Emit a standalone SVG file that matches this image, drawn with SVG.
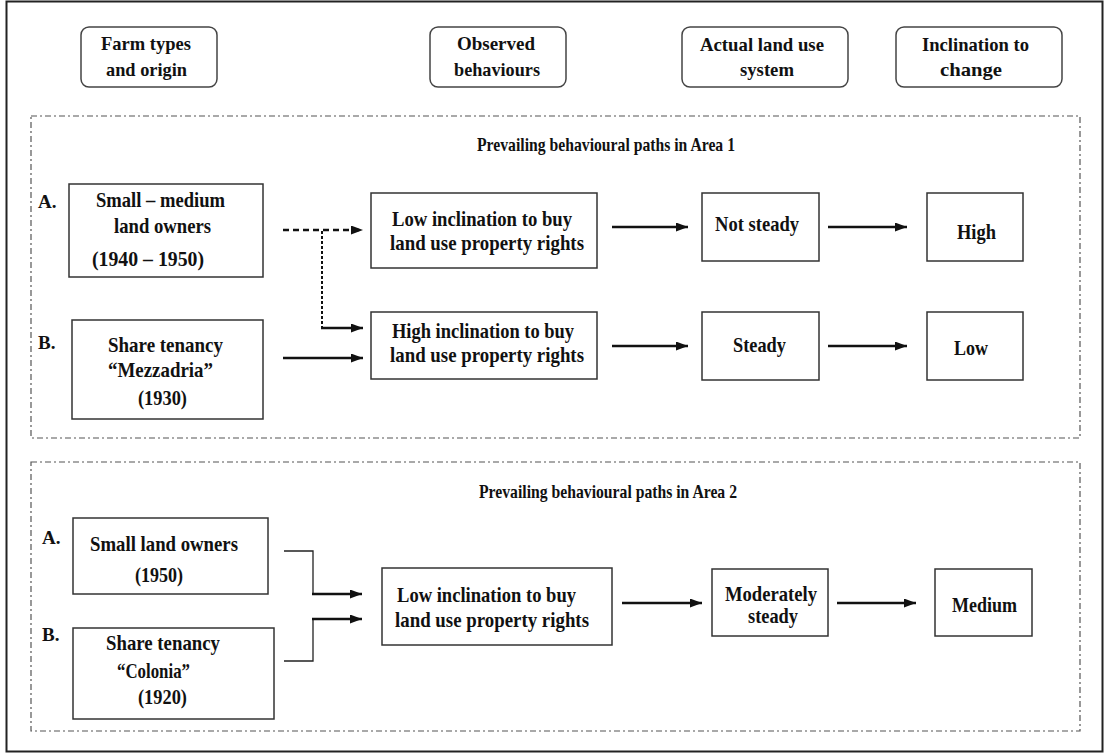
<svg xmlns="http://www.w3.org/2000/svg" width="1105" height="753" viewBox="0 0 1105 753">
<style>
  text { font-family: "Liberation Serif", "Times New Roman", serif; font-weight: bold; fill: #111; }
  .hd { font-size: 19px; }
  .tt { font-size: 19px; }
  .nd { font-size: 21px; }
  .lb { font-size: 19px; }
  .hbox { fill: #fff; stroke: #444; stroke-width: 1.5; }
  .box { fill: #fff; stroke: #333; stroke-width: 1.5; }
  .area { fill: none; stroke: #555; stroke-width: 1.2; stroke-dasharray: 6 3 2 3; }
  .arr { fill: none; stroke: #111; stroke-width: 2.5; marker-end: url(#ah); }
  .thin { fill: none; stroke: #222; stroke-width: 1.3; }
</style>
<defs>
  <marker id="ah" markerUnits="userSpaceOnUse" markerWidth="12" markerHeight="9" refX="12" refY="4.5" orient="auto">
    <path d="M0,0 L12,4.5 L0,9 z" fill="#111"/>
  </marker>
</defs>
<rect x="6.5" y="1.5" width="1096" height="750" fill="#fff" stroke="#222" stroke-width="2"/>

<g id="area1">
  <rect class="area" x="31" y="116" width="1049" height="322"/>
  <text class="tt" x="477" y="151" textLength="258" lengthAdjust="spacingAndGlyphs">Prevailing behavioural paths in Area 1</text>
</g>
<g id="area2">
  <rect class="area" x="31" y="462" width="1049" height="269"/>
  <text class="tt" x="479" y="498" textLength="258" lengthAdjust="spacingAndGlyphs">Prevailing behavioural paths in Area 2</text>
</g>

<g id="hdr-farm">
  <rect class="hbox" x="81" y="27" width="136" height="60" rx="8"/>
  <text class="hd" x="101" y="50" textLength="90" lengthAdjust="spacingAndGlyphs">Farm types</text>
  <text class="hd" x="106" y="76" textLength="81" lengthAdjust="spacingAndGlyphs">and origin</text>
</g>
<g id="hdr-observed">
  <rect class="hbox" x="430" y="27" width="136" height="60" rx="8"/>
  <text class="hd" x="457" y="50" textLength="78" lengthAdjust="spacingAndGlyphs">Observed</text>
  <text class="hd" x="454" y="76" textLength="86" lengthAdjust="spacingAndGlyphs">behaviours</text>
</g>
<g id="hdr-actual">
  <rect class="hbox" x="682" y="27" width="166" height="60" rx="8"/>
  <text class="hd" x="700" y="51" textLength="124" lengthAdjust="spacingAndGlyphs">Actual land use</text>
  <text class="hd" x="740" y="76" textLength="54" lengthAdjust="spacingAndGlyphs">system</text>
</g>
<g id="hdr-inclination">
  <rect class="hbox" x="896" y="27" width="166" height="60" rx="8"/>
  <text class="hd" x="922" y="51" textLength="107" lengthAdjust="spacingAndGlyphs">Inclination to</text>
  <text class="hd" x="940" y="76" textLength="62" lengthAdjust="spacingAndGlyphs">change</text>
</g>

<g id="a1-A">
  <text class="lb" x="38" y="208">A.</text>
  <rect class="box" x="69" y="184" width="194" height="93"/>
  <text class="nd" x="96" y="207" textLength="129" lengthAdjust="spacingAndGlyphs">Small – medium</text>
  <text class="nd" x="114" y="233" textLength="97" lengthAdjust="spacingAndGlyphs">land owners</text>
  <text class="nd" x="92" y="266" textLength="112" lengthAdjust="spacingAndGlyphs">(1940  – 1950)</text>
</g>
<g id="a1-B">
  <text class="lb" x="38" y="349">B.</text>
  <rect class="box" x="72" y="320" width="191" height="99"/>
  <text class="nd" x="108" y="352" textLength="115" lengthAdjust="spacingAndGlyphs">Share tenancy</text>
  <text class="nd" x="108" y="377" textLength="105" lengthAdjust="spacingAndGlyphs">“Mezzadria”</text>
  <text class="nd" x="138" y="405" textLength="49" lengthAdjust="spacingAndGlyphs">(1930)</text>
</g>
<g id="a1-low">
  <rect class="box" x="371" y="193" width="226" height="75"/>
  <text class="nd" x="392" y="226" textLength="180" lengthAdjust="spacingAndGlyphs">Low inclination to buy</text>
  <text class="nd" x="390" y="250" textLength="194" lengthAdjust="spacingAndGlyphs">land use property rights</text>
</g>
<g id="a1-high">
  <rect class="box" x="371" y="312" width="226" height="67"/>
  <text class="nd" x="392" y="338" textLength="182" lengthAdjust="spacingAndGlyphs">High inclination to buy</text>
  <text class="nd" x="390" y="362" textLength="194" lengthAdjust="spacingAndGlyphs">land use property rights</text>
</g>
<g id="a1-notsteady">
  <rect class="box" x="702" y="193" width="117" height="68"/>
  <text class="nd" x="715" y="231" textLength="84" lengthAdjust="spacingAndGlyphs">Not steady</text>
</g>
<g id="a1-highch">
  <rect class="box" x="927" y="193" width="96" height="68"/>
  <text class="nd" x="957" y="239" textLength="39" lengthAdjust="spacingAndGlyphs">High</text>
</g>
<g id="a1-steady">
  <rect class="box" x="702" y="312" width="117" height="68"/>
  <text class="nd" x="733" y="352" textLength="53" lengthAdjust="spacingAndGlyphs">Steady</text>
</g>
<g id="a1-lowch">
  <rect class="box" x="927" y="312" width="96" height="68"/>
  <text class="nd" x="954" y="355" textLength="34" lengthAdjust="spacingAndGlyphs">Low</text>
</g>

<g id="a2-A">
  <text class="lb" x="42" y="544">A.</text>
  <rect class="box" x="73" y="518" width="195" height="76"/>
  <text class="nd" x="90" y="551" textLength="148" lengthAdjust="spacingAndGlyphs">Small land owners</text>
  <text class="nd" x="135" y="582" textLength="48" lengthAdjust="spacingAndGlyphs">(1950)</text>
</g>
<g id="a2-B">
  <text class="lb" x="42" y="641">B.</text>
  <rect class="box" x="73" y="628" width="201" height="91"/>
  <text class="nd" x="106" y="650" textLength="114" lengthAdjust="spacingAndGlyphs">Share tenancy</text>
  <text class="nd" x="117" y="678" textLength="73" lengthAdjust="spacingAndGlyphs">“Colonia”</text>
  <text class="nd" x="138" y="704" textLength="49" lengthAdjust="spacingAndGlyphs">(1920)</text>
</g>
<g id="a2-low">
  <rect class="box" x="382" y="568" width="230" height="77"/>
  <text class="nd" x="397" y="602" textLength="179" lengthAdjust="spacingAndGlyphs">Low inclination to buy</text>
  <text class="nd" x="395" y="627" textLength="194" lengthAdjust="spacingAndGlyphs">land use property rights</text>
</g>
<g id="a2-moderately">
  <rect class="box" x="712" y="569" width="116" height="67"/>
  <text class="nd" x="725" y="601" textLength="92" lengthAdjust="spacingAndGlyphs">Moderately</text>
  <text class="nd" x="748" y="623" textLength="50" lengthAdjust="spacingAndGlyphs">steady</text>
</g>
<g id="a2-medium">
  <rect class="box" x="935" y="569" width="97" height="67"/>
  <text class="nd" x="952" y="612" textLength="65" lengthAdjust="spacingAndGlyphs">Medium</text>
</g>

<g id="connectors">
  <line class="arr" x1="283" y1="230" x2="363" y2="230" stroke-dasharray="6 4"/>
  <line x1="322" y1="231" x2="322" y2="328" stroke="#111" stroke-width="2" stroke-dasharray="3 2"/>
  <line class="arr" x1="321" y1="328" x2="363" y2="328"/>
  <line class="arr" x1="283" y1="358" x2="363" y2="358"/>
  <line class="arr" x1="612" y1="227" x2="688" y2="227"/>
  <line class="arr" x1="828" y1="227" x2="907" y2="227"/>
  <line class="arr" x1="612" y1="346" x2="688" y2="346"/>
  <line class="arr" x1="828" y1="346" x2="907" y2="346"/>

  <path class="thin" d="M284,551 H313 V594"/>
  <line class="arr" x1="312" y1="594" x2="362" y2="594"/>
  <path class="thin" d="M284,661 H313 V619"/>
  <line class="arr" x1="312" y1="619" x2="362" y2="619"/>
  <line class="arr" x1="622" y1="603" x2="702" y2="603"/>
  <line class="arr" x1="837" y1="603" x2="916" y2="603"/>
</g>
</svg>
